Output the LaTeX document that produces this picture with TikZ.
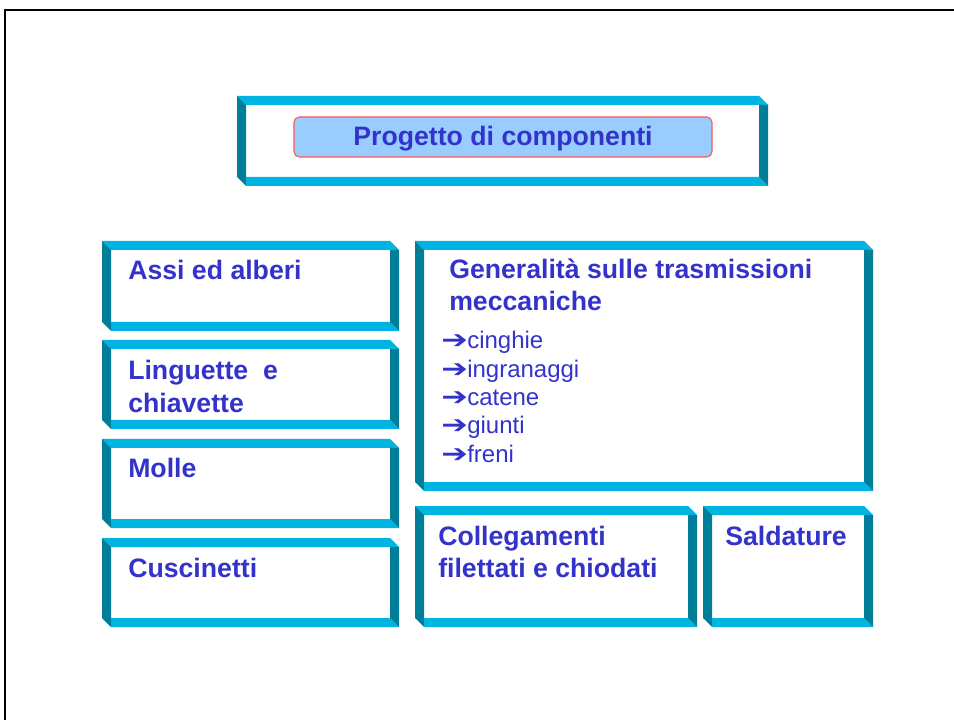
\documentclass[tikz,border=0pt]{standalone}
\usepackage{fontspec}
\usepackage{graphicx}
\setmainfont{Liberation Sans}
\newfontfamily\dvfont{DejaVu Sans}
\definecolor{lightb}{RGB}{0,180,225}
\definecolor{darkb}{RGB}{0,125,153}
\definecolor{txtblue}{RGB}{51,51,204}
\definecolor{titlefill}{RGB}{153,204,255}
\definecolor{titleline}{RGB}{255,85,85}
\def\bt{9}
\newcommand\bframe[5]{%
  \coordinate (#1-nw) at (#2,#3);
  \coordinate (#1-se) at (#4,#5);
  \fill[lightb] (#2,#3) -- ({#4-\bt},#3) -- (#4,{#3+\bt}) -- ({#2+\bt},{#3+\bt}) -- cycle;
  \fill[darkb] (#2,#3) -- ({#2+\bt},{#3+\bt}) -- ({#2+\bt},#5) -- (#2,{#5-\bt}) -- cycle;
  \fill[lightb] ({#2+\bt},{#5-\bt}) -- ({#4-\bt},{#5-\bt}) -- (#4,#5) -- ({#2+\bt},#5) -- cycle;
  \fill[darkb] ({#4-\bt},{#3+\bt}) -- (#4,{#3+\bt}) -- (#4,#5) -- ({#4-\bt},{#5-\bt}) -- cycle;
}
\tikzset{
  btxt/.style={anchor=base west, inner sep=0pt, text=txtblue, font=\fontsize{20}{24}\selectfont\bfseries, align=left},
  itxt/.style={anchor=base west, inner sep=0pt, text=txtblue, font=\fontsize{18}{21.6}\selectfont},
  arr/.style={anchor=base west, inner sep=0pt, text=txtblue, font=\dvfont\fontsize{17}{20}\selectfont\bfseries},
}
\begin{document}
\begin{tikzpicture}[x=0.75pt,y=-0.75pt]
\useasboundingbox (0,0) rectangle (954,720);
\fill[white] (0,0) rectangle (954,720);
% page frame
\draw[line width=1.5pt,black] (5,720) -- (5,10) -- (954,10);
% frames
\bframe{title}{237}{96}{768}{186}
\bframe{assi}{102}{241}{399}{331}
\bframe{ling}{102}{340}{399}{429}
\bframe{molle}{102}{439}{399}{528}
\bframe{cusc}{102}{538}{399}{627}
\bframe{gen}{415}{241}{873}{491}
\bframe{coll}{415}{506}{697}{627}
\bframe{sald}{703}{506}{873}{627}
% title
\draw[titleline, fill=titlefill, line width=0.8pt, rounded corners=4pt] (294,117) rectangle (712,157);
\node[inner sep=0pt, text=txtblue, font=\fontsize{20}{24}\selectfont\bfseries] (ttl) at (503,139) {Progetto di componenti};
% left texts
\node[btxt] (tassi) at (128,280) {Assi ed alberi};
\node[btxt] (tling1) at (128,380) {Linguette\ \ e};
\node[btxt] (tling2) at (128,412) {chiavette};
\node[btxt] (tmolle) at (128,478) {Molle};
\node[btxt] (tcusc) at (128,577) {Cuscinetti};
% generalita
\node[btxt] (tgen1) at (449,279) {Generalità sulle trasmissioni};
\node[btxt] (tgen2) at (449,311) {meccaniche};
\foreach \w/\yy/\nm in {cinghie/349/a, ingranaggi/378/b, catene/406/c, giunti/434/d, freni/463/e}{
  \node[arr] (ar\nm) at (441,\yy) {\scalebox{1.4}[1.1]{➔}};
  \node[itxt] (it\nm) at (467,\yy) {\w};
}
% bottom
\node[btxt] (tcoll1) at (438,545) {Collegamenti};
\node[btxt] (tcoll2) at (438,577) {filettati e chiodati};
\node[btxt] (tsald) at (725,545) {Saldature};
\end{tikzpicture}
\end{document}
